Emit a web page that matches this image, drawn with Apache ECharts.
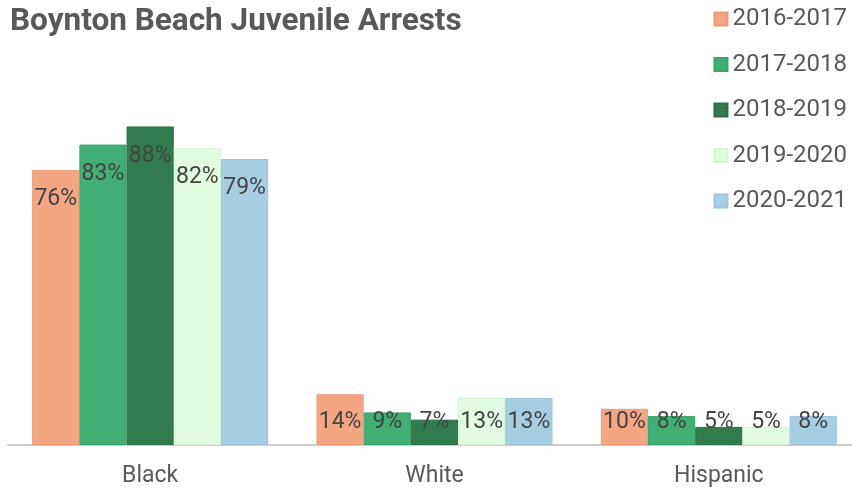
<!DOCTYPE html>
<html>
<head>
<meta charset="utf-8">
<script src="https://cdn.jsdelivr.net/npm/echarts@6/dist/echarts.min.js"></script>
<style>html,body{margin:0;padding:0;background:#fff}#c{width:852px;height:488px}</style>
</head>
<body>
<div id="c"></div>
<script>
const categories = ['Black', 'White', 'Hispanic'];
const seriesNames = ['2016-2017', '2017-2018', '2018-2019', '2019-2020', '2020-2021'];
const v2016 = [76, 14, 10];
const v2017 = [83, 9, 8];
const v2018 = [88, 7, 5];
const v2019 = [82, 13, 5];
const v2020 = [79, 13, 8];
const values = [v2016, v2017, v2018, v2019, v2020];
const colors = ['#F4A582', '#41AE76', '#317B4E', '#E2FCE2', '#A6CEE3'];
const borders = ['#EE9C78', '#37A56B', '#2A7044', '#D6F5D6', '#9CC6DC'];

const chart = echarts.init(document.getElementById('c'));
const series = values.map((arr, i) => ({
  name: seriesNames[i],
  type: 'bar',
  barGap: '0%',
  barCategoryGap: '17%',
  itemStyle: { color: colors[i], borderColor: borders[i], borderWidth: 1 },
  label: {
    show: true,
    formatter: '{c}%',
    fontFamily: 'Roboto',
    fontSize: 23,
    color: '#444'
  },
  data: arr.map(v => ({
    value: v,
    label: v < 20 ? { position: 'insideBottom', distance: 11 } : { position: 'insideTop', distance: 18 }
  }))
}));

chart.setOption({
  animation: false,
  color: colors,
  title: {
    text: 'Boynton Beach Juvenile Arrests',
    left: 5,
    top: 1,
    textStyle: { fontFamily: 'Roboto', fontWeight: 'bold', fontSize: 31.5, color: '#595959' }
  },
  legend: {
    orient: 'vertical',
    right: 5,
    top: 7,
    padding: 0,
    icon: 'rect',
    itemWidth: 13,
    itemHeight: 13,
    itemGap: 21.5,
    textStyle: { fontFamily: 'Roboto', fontSize: 24, color: '#595959', lineHeight: 24 },
    data: seriesNames
  },
  grid: { left: 8, right: -9, top: 83, bottom: 43, containLabel: false, outerBoundsMode: 'none' },
  xAxis: {
    type: 'category',
    data: categories,
    axisLine: { lineStyle: { color: '#cccccc', width: 2 } },
    axisTick: { show: false },
    axisLabel: { fontFamily: 'Roboto', fontSize: 23, color: '#595959', margin: 20 }
  },
  yAxis: {
    type: 'value',
    min: 0,
    max: 100,
    show: false,
    splitLine: { show: false }
  },
  series: series
});
</script>
</body>
</html>
